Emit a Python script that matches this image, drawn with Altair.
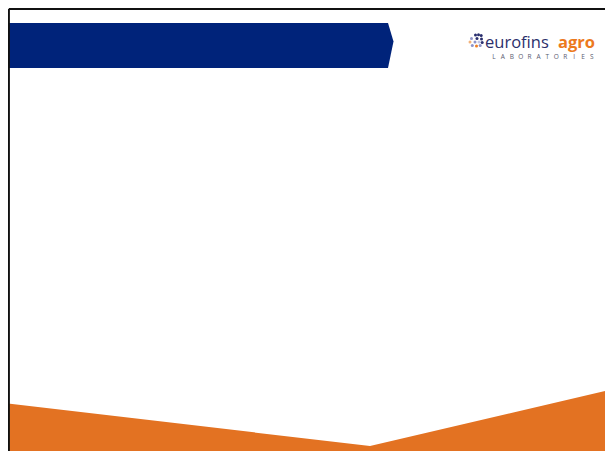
import altair as alt
import pandas as pd

# Slide geometry (pixel space of the 613x459 slide)
band_x = [8, 388, 393.5]
band_top = [23, 23, 41.5]
band_bottom = [68, 68, 41.5]

orange_x = [8, 370, 613]
orange_top = [403.5, 446, 389]
orange_bottom = [459, 459, 459]

frame_x = [8.8, 8.8]
frame_x2 = [613, 8.8]
frame_y = [9, 9]
frame_y2 = [9, 459]

dot_x = [475.5, 478.5, 481.2, 471.5, 477.0, 481.5, 470.0, 475.0, 479.0, 482.2, 472.3, 476.5, 480.2]
dot_y = [35.0, 34.8, 35.5, 38.5, 38.5, 39.0, 42.0, 42.0, 42.0, 42.5, 45.5, 46.0, 45.5]
dot_tone = ["navy", "navy", "navy", "lavender", "navy", "navy", "peach", "lavender", "pale", "navy", "lavender", "orange", "lavender"]

logo_words = ["eurofins", "agro"]
logo_sub = list("LABORATORIES")

NAVY = "#00237a"
ORANGE = "#e37222"

xs = alt.Scale(domain=[8, 605])
ys = alt.Scale(domain=[8, 451], reverse=True)

def X(f):
    return alt.X(f, type="quantitative", scale=xs, axis=None)

def Y(f):
    return alt.Y(f, type="quantitative", scale=ys, axis=None)

band = alt.Chart(pd.DataFrame({"x": band_x, "y": band_top, "y2": band_bottom})).mark_area(
    color=NAVY, orient="vertical", clip=True, opacity=1
).encode(x=X("x"), y=Y("y"), y2="y2")

orange = alt.Chart(pd.DataFrame({"x": orange_x, "y": orange_top, "y2": orange_bottom})).mark_area(
    color=ORANGE, orient="vertical", clip=True, opacity=1
).encode(x=X("x"), y=Y("y"), y2="y2")

frame = alt.Chart(pd.DataFrame({"x": frame_x, "x2": frame_x2, "y": frame_y, "y2": frame_y2})).mark_rule(
    color="#111111", strokeWidth=2.2, clip=True
).encode(x=X("x"), x2="x2", y=Y("y"), y2="y2")

dots = alt.Chart(pd.DataFrame({"x": dot_x, "y": dot_y, "tone": dot_tone})).mark_circle(
    size=9, opacity=1
).encode(
    x=X("x"), y=Y("y"),
    color=alt.Color("tone:N", legend=None,
                    scale=alt.Scale(domain=["navy", "lavender", "pale", "peach", "orange"],
                                    range=["#2a2f6e", "#8e93c9", "#c3c6e6", "#f2b27a", "#ef7d22"])),
)

word1 = alt.Chart(pd.DataFrame({"t": [logo_words[0]], "px": [485], "py": [47.5]})).mark_text(
    align="left", baseline="alphabetic", font="Open Sans", fontSize=16.5, fontWeight=500,
    color="#2b2f6b"
).encode(x=X("px"), y=Y("py"), text="t:N")

word2 = alt.Chart(pd.DataFrame({"t": [logo_words[1]], "px": [595], "py": [47.5]})).mark_text(
    align="right", baseline="alphabetic", font="Open Sans", fontSize=16.5, fontWeight=700,
    color="#ec7a1d"
).encode(x=X("px"), y=Y("py"), text="t:N")

sub = alt.Chart(pd.DataFrame({"t": logo_sub, "i": list(range(len(logo_sub)))})).transform_calculate(
    px="494 + datum.i * 8.9", py="56.5"
).mark_text(
    align="center", baseline="middle", font="Open Sans", fontSize=6.5, color="#5a5c70"
).encode(x=X("px"), y=Y("py"), text="t:N")

chart = alt.layer(band, orange, frame, dots, word1, word2, sub).properties(
    width=597, height=443, padding=0, background="white"
).configure_view(stroke=None)

chart.save("out.html", embed_options={"renderer": "svg", "actions": False})
